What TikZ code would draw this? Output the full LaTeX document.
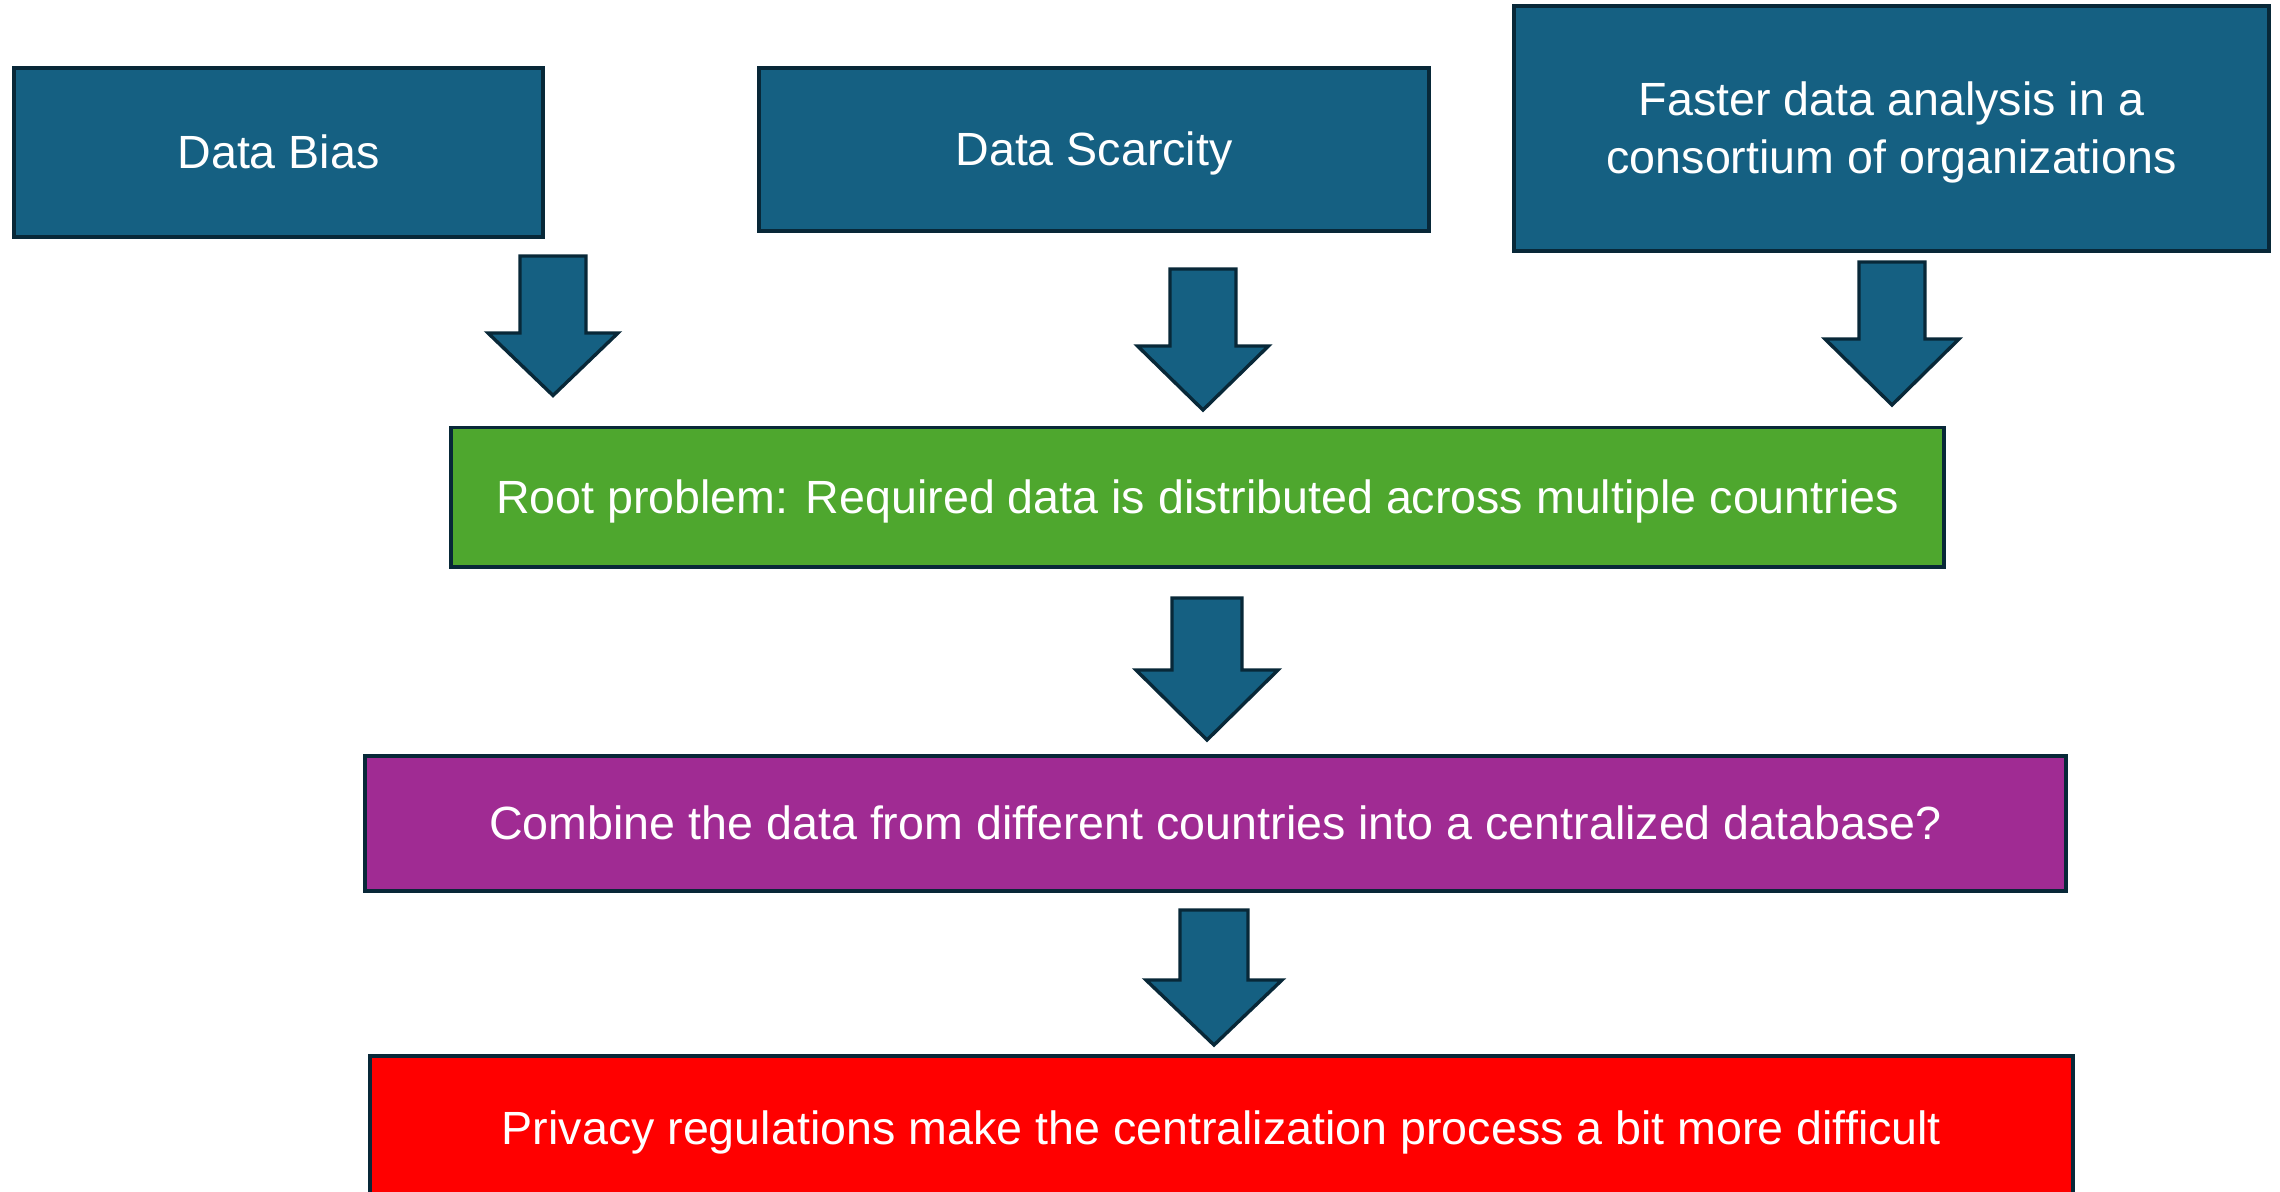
\documentclass[tikz,border=0pt]{standalone}
\usepackage{fontspec}
\setmainfont{Liberation Sans}
\definecolor{tealfill}{HTML}{156082}
\definecolor{darkedge}{HTML}{082838}
\definecolor{rootgreen}{HTML}{4EA72E}
\definecolor{combpurple}{HTML}{A02B93}
\definecolor{privred}{HTML}{FF0000}

% block arrow pointing down: centre x, top, head start, tip, shaft half width, head half width
\newcommand\blockdown[6]{%
  \draw[arrowshape] (#1-#5,#2) -- (#1+#5,#2) -- (#1+#5,#3) -- (#1+#6,#3)
    -- (#1,#4) -- (#1-#6,#3) -- (#1-#5,#3) -- cycle;}

\begin{document}
\begin{tikzpicture}[x=0.5pt,y=-0.5pt,
  box/.style={draw=darkedge, line width=1.7pt, inner sep=0pt, text=white,
    font=\fontsize{23.3}{29}\selectfont, align=center},
  oneline/.style={box, text height=16pt, text depth=0pt},
  arrowshape/.style={draw=darkedge, fill=tealfill, line width=1.7pt, line join=miter}]
\useasboundingbox (0,0) rectangle (2280,1192);
\clip (0,0) rectangle (2280,1192);

% top row: the three drivers
\node[oneline, fill=tealfill, minimum width=264.5pt, minimum height=84.5pt]
  (bias) at (278.5,152.5) {Data Bias};
\node[oneline, fill=tealfill, minimum width=335pt, minimum height=81.5pt]
  (scarcity) at (1094,149.5) {Data Scarcity};
\node[box, fill=tealfill, minimum width=377.5pt, minimum height=122.5pt]
  (faster) at (1891.5,128.5) {};
\node[box, draw=none, yshift=-2pt] (fastertext) at (faster.center)
  {Faster data analysis in a\\consortium of organizations};

% root problem, idea and obstacle
\node[oneline, fill=rootgreen, minimum width=746.5pt, minimum height=69.75pt]
  (root) at (1197.5,497.25) {Root problem: Required data is distributed across multiple countries};
\node[oneline, fill=combpurple, minimum width=850.5pt, minimum height=67.5pt]
  (combine) at (1215.5,823.5) {Combine the data from different countries into a centralized database?};
\node[oneline, fill=privred, minimum width=851.5pt, minimum height=72pt]
  (privacy) at (1221.5,1128) {Privacy regulations make the centralization process a bit more difficult};

% block arrows between the rows
\blockdown{553}{256}{333}{395.5}{33}{65}
\blockdown{1203}{269}{346}{410}{33}{65.5}
\blockdown{1892}{262}{339}{405}{33}{67}
\blockdown{1207}{598}{670}{740}{35}{71}
\blockdown{1214}{910}{980}{1045}{34}{68}
\end{tikzpicture}
\end{document}
